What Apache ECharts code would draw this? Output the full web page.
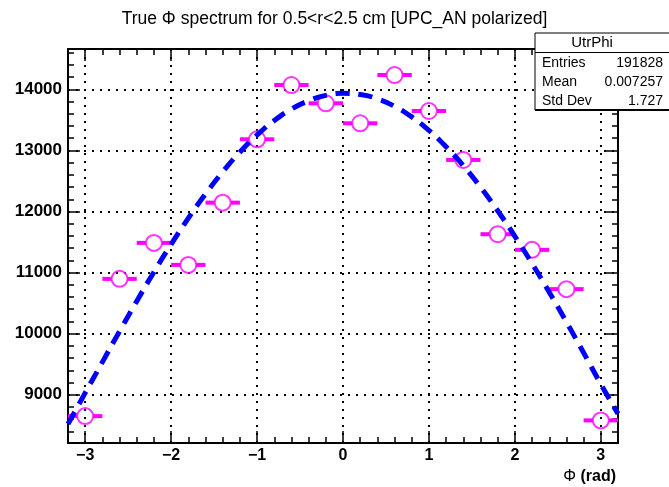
<!DOCTYPE html>
<html>
<head>
<meta charset="utf-8">
<script src="https://cdn.jsdelivr.net/npm/echarts@6/dist/echarts.min.js"></script>
<style>
html,body{margin:0;padding:0;background:#fff;}
#chart{width:669px;height:487px;}
</style>
</head>
<body>
<div id="chart"></div>
<script>
// ---- data ----
const binCenters = [-3.0, -2.6, -2.2, -1.8, -1.4, -1.0, -0.6, -0.2, 0.2, 0.6, 1.0, 1.4, 1.8, 2.2, 2.6, 3.0];
const binCounts  = [8650, 10897, 11486, 11126, 12145, 13182, 14070, 13771, 13444, 14234, 13645, 12844, 11628, 11372, 10729, 8580];
const binWidth = 0.4;

const fitX = [-3.2, -3.0, -2.8, -2.6, -2.4, -2.2, -2.0, -1.8, -1.6, -1.4, -1.2, -1.0, -0.8, -0.6, -0.4, -0.2, 0.0,
              0.2, 0.4, 0.6, 0.8, 1.0, 1.2, 1.4, 1.6, 1.8, 2.0, 2.2, 2.4, 2.6, 2.8, 3.0, 3.2];
const fitY = [8520, 9030, 9534, 10040, 10532, 11010, 11463, 11890, 12286, 12648, 12971, 13252, 13488, 13676, 13813, 13900, 13934,
              13916, 13845, 13722, 13549, 13327, 13059, 12750, 12399, 12012, 11594, 11148, 10678, 10190, 9687, 9174, 8690];

const xMajorTicks = [-3, -2, -1, 0, 1, 2, 3];
const xMinorTicks = [-3.2, -2.8, -2.6, -2.4, -2.2, -1.8, -1.6, -1.4, -1.2, -0.8, -0.6, -0.4, -0.2,
                     0.2, 0.4, 0.6, 0.8, 1.2, 1.4, 1.6, 1.8, 2.2, 2.4, 2.6, 2.8, 3.2];
const yMajorTicks = [9000, 10000, 11000, 12000, 13000, 14000];
const yMinorTicks = [8400, 8600, 8800, 9200, 9400, 9600, 9800, 10200, 10400, 10600, 10800,
                     11200, 11400, 11600, 11800, 12200, 12400, 12600, 12800, 13200, 13400, 13600, 13800,
                     14200, 14400, 14600];

const xMin = -3.2, xMax = 3.2, yMin = 8210, yMax = 14660;

const titleText = 'True \u03A6 spectrum for 0.5<r<2.5 cm [UPC_AN polarized]';
const statsName = 'UtrPhi';
const statsLabels = ['Entries', 'Mean', 'Std Dev'];
const statsValues = ['191828', '0.007257', '1.727'];

// ---- chart ----
const FONT = '"Liberation Sans", Arial, Helvetica, sans-serif';
const chart = echarts.init(document.getElementById('chart'), null, {renderer: 'canvas'});

function fmtX(v){ return (v < 0 ? '\u2212' + Math.abs(v) : String(v)); }
function fmtY(v){ return String(v); }

function xAxisDef(pos, ticks, len, showLabel, showLine, showSplit){
  return {
    type: 'value', position: pos, min: xMin, max: xMax,
    axisLine: {show: showLine, onZero: false, lineStyle: {color: '#000', width: 2}},
    axisTick: {show: true, inside: true, length: len, customValues: ticks, lineStyle: {color: '#000', width: 1.5}},
    axisLabel: {show: showLabel, customValues: ticks, margin: 5, color: '#000', fontFamily: FONT, fontWeight: 'bold', fontSize: 16, formatter: fmtX},
    splitLine: {show: showSplit, lineStyle: {color: '#000', width: 2, type: [2, 6]}},
    minorTick: {show: false}
  };
}
function yAxisDef(pos, ticks, len, showLabel, showLine, showSplit){
  return {
    type: 'value', position: pos, min: yMin, max: yMax,
    axisLine: {show: showLine, onZero: false, lineStyle: {color: '#000', width: 2}},
    axisTick: {show: true, inside: true, length: len, customValues: ticks, lineStyle: {color: '#000', width: 1.5}},
    axisLabel: {show: showLabel, customValues: ticks, margin: 6, color: '#000', fontFamily: FONT, fontWeight: 'bold', fontSize: 17, formatter: fmtY},
    splitLine: {show: showSplit, lineStyle: {color: '#000', width: 2, type: [2, 6]}},
    minorTick: {show: false}
  };
}

const pointData = binCenters.map((x, i) => [x, binCounts[i]]);
const fitData = fitX.map((x, i) => [x, fitY[i]]);

const option = {
  backgroundColor: '#fff',
  animation: false,
  title: {
    text: titleText, left: 'center', top: 5,
    textStyle: {fontFamily: FONT, fontWeight: 'normal', fontSize: 17.5, color: '#000'}
  },
  grid: {left: 68, right: 51, top: 49, bottom: 44, containLabel: false},
  xAxis: [
    xAxisDef('bottom', xMajorTicks, 12, true, true, true),
    xAxisDef('bottom', xMinorTicks, 6, false, false, false),
    xAxisDef('top', xMajorTicks, 12, false, true, false),
    xAxisDef('top', xMinorTicks, 6, false, false, false)
  ],
  yAxis: [
    yAxisDef('left', yMajorTicks, 12, true, true, true),
    yAxisDef('left', yMinorTicks, 6, false, false, false),
    yAxisDef('right', yMajorTicks, 12, false, true, false),
    yAxisDef('right', yMinorTicks, 6, false, false, false)
  ],
  series: [
    {
      type: 'custom', name: 'errx', xAxisIndex: 0, yAxisIndex: 0, z: 3,
      data: pointData,
      renderItem: function(params, api){
        const x = api.value(0), y = api.value(1);
        const c = api.coord([x, y]);
        const l = api.coord([x - binWidth / 2, y]);
        const r = api.coord([x + binWidth / 2, y]);
        const rad = 8;
        const st = {stroke: '#ff00ff', lineWidth: 4};
        return {type: 'group', children: [
          {type: 'line', shape: {x1: l[0], y1: c[1], x2: c[0] - rad, y2: c[1]}, style: st},
          {type: 'line', shape: {x1: c[0] + rad, y1: c[1], x2: r[0], y2: c[1]}, style: st}
        ]};
      },
      clip: true
    },
    {
      type: 'scatter', name: 'UtrPhi', xAxisIndex: 0, yAxisIndex: 0, z: 4,
      data: pointData, symbol: 'circle', symbolSize: 16,
      itemStyle: {color: 'rgba(0,0,0,0)', borderColor: '#ff00ff', borderWidth: 2}
    },
    {
      type: 'line', name: 'fit', xAxisIndex: 0, yAxisIndex: 0, z: 5,
      data: fitData, smooth: true, showSymbol: false, clip: true,
      lineStyle: {color: '#0000ff', width: 5, type: [14, 9]}
    }
  ],
  graphic: [
    {type: 'rect', z: 100, shape: {x: 535, y: 33, width: 140, height: 77}, style: {fill: '#fff', stroke: '#000', lineWidth: 1}},
    {type: 'line', z: 101, shape: {x1: 535, y1: 110, x2: 669, y2: 110}, style: {stroke: '#000', lineWidth: 2}},
    {type: 'line', z: 101, shape: {x1: 535, y1: 52.5, x2: 669, y2: 52.5}, style: {stroke: '#000', lineWidth: 1}},
    {type: 'text', z: 101, x: 592, y: 43, style: {text: statsName, fontFamily: FONT, fontSize: 15, fill: '#000', align: 'center', verticalAlign: 'middle'}},
    {type: 'text', z: 101, x: 542, y: 63, style: {text: statsLabels[0], fontFamily: FONT, fontSize: 14, fill: '#000', align: 'left', verticalAlign: 'middle'}},
    {type: 'text', z: 101, x: 542, y: 82, style: {text: statsLabels[1], fontFamily: FONT, fontSize: 14, fill: '#000', align: 'left', verticalAlign: 'middle'}},
    {type: 'text', z: 101, x: 542, y: 101, style: {text: statsLabels[2], fontFamily: FONT, fontSize: 14, fill: '#000', align: 'left', verticalAlign: 'middle'}},
    {type: 'text', z: 101, x: 663, y: 63, style: {text: statsValues[0], fontFamily: FONT, fontSize: 14, fill: '#000', align: 'right', verticalAlign: 'middle'}},
    {type: 'text', z: 101, x: 663, y: 82, style: {text: statsValues[1], fontFamily: FONT, fontSize: 14, fill: '#000', align: 'right', verticalAlign: 'middle'}},
    {type: 'text', z: 101, x: 663, y: 101, style: {text: statsValues[2], fontFamily: FONT, fontSize: 14, fill: '#000', align: 'right', verticalAlign: 'middle'}},
    {type: 'text', z: 101, x: 616, y: 477, style: {
      text: '{p|\u03A6}{b| (rad)}', align: 'right', verticalAlign: 'middle',
      rich: {
        p: {fontFamily: FONT, fontSize: 16, fill: '#000', fontWeight: 'normal'},
        b: {fontFamily: FONT, fontSize: 16, fill: '#000', fontWeight: 'bold'}
      }
    }}
  ]
};
chart.setOption(option);
</script>
</body>
</html>
